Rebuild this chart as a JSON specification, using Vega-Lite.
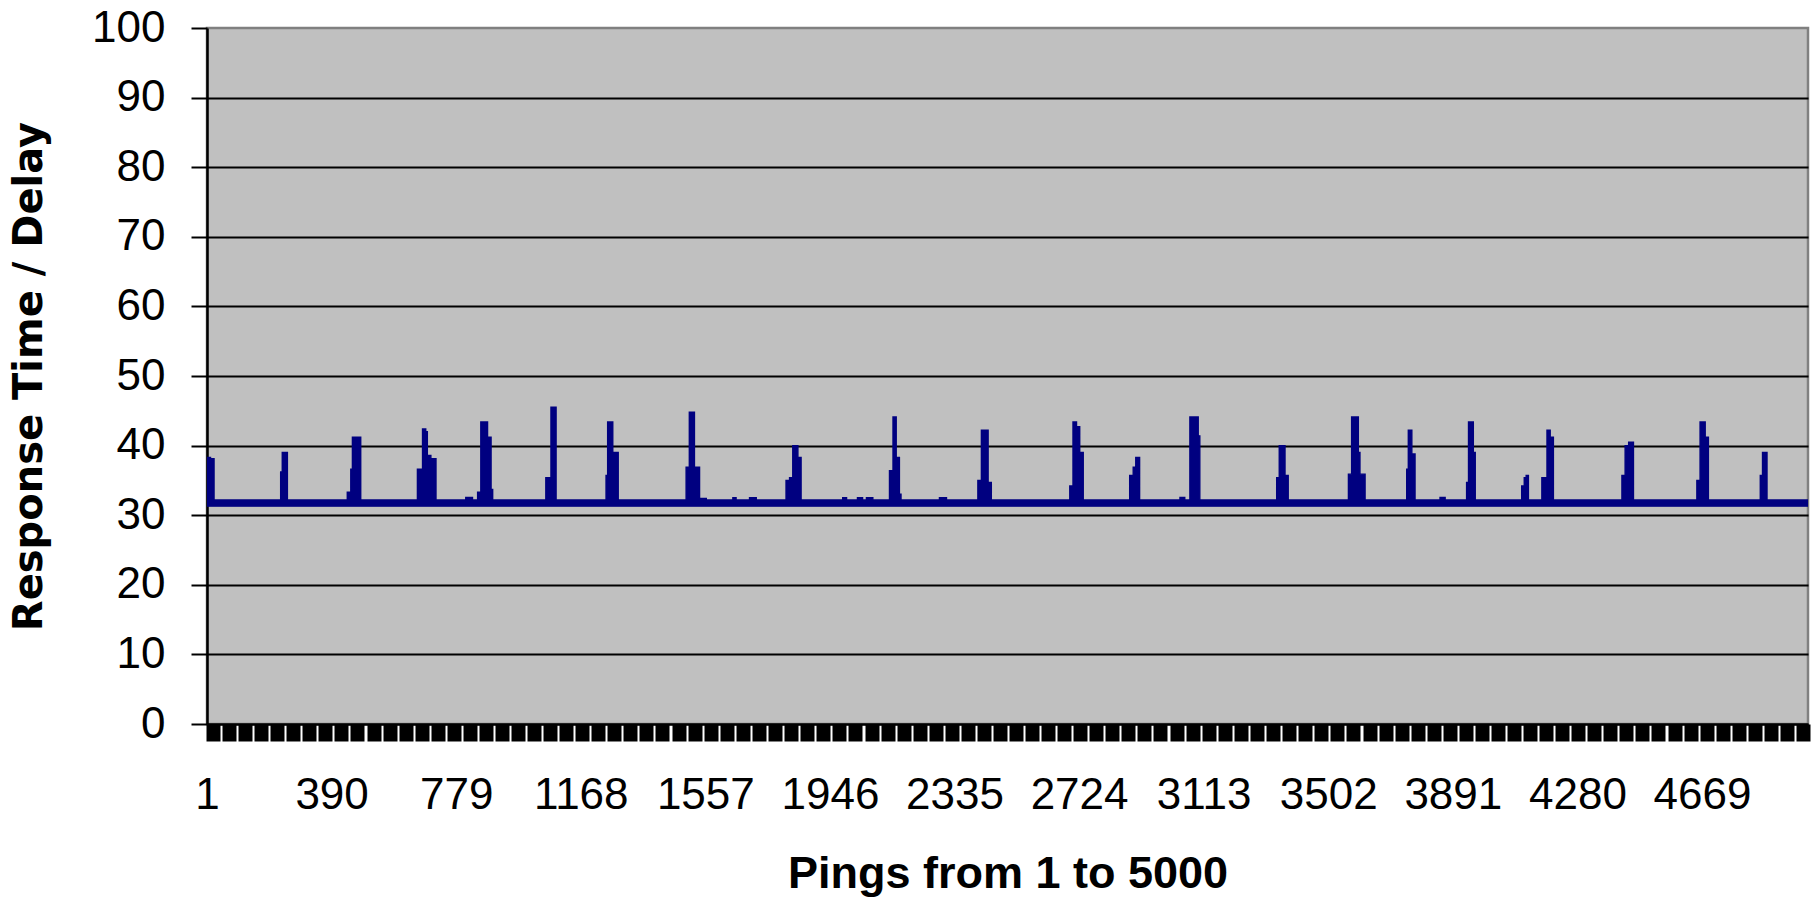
{
  "$schema": "https://vega.github.io/schema/vega-lite/v6.json",
  "width": 1601,
  "height": 696,
  "autosize": "none",
  "padding": {"left": 207, "top": 28, "right": 11, "bottom": 177},
  "background": "white",
  "config": {
    "view": {"fill": "#C0C0C0", "stroke": "#808080", "strokeWidth": 2.5}
  },
  "data": {
    "values": [
      {"ping": 1, "delay": 38.3}, {"ping": 12, "delay": 38.1}, {"ping": 23, "delay": 32.2},
      {"ping": 231, "delay": 36.2}, {"ping": 236, "delay": 39.0}, {"ping": 252, "delay": 32.2},
      {"ping": 439, "delay": 33.3}, {"ping": 450, "delay": 36.6}, {"ping": 455, "delay": 41.2}, {"ping": 481, "delay": 32.2},
      {"ping": 658, "delay": 36.6}, {"ping": 674, "delay": 42.4}, {"ping": 684, "delay": 42.0}, {"ping": 689, "delay": 38.6}, {"ping": 700, "delay": 38.1}, {"ping": 716, "delay": 32.2},
      {"ping": 809, "delay": 32.55}, {"ping": 830, "delay": 32.2},
      {"ping": 846, "delay": 33.3}, {"ping": 856, "delay": 43.4}, {"ping": 877, "delay": 41.2}, {"ping": 888, "delay": 33.7}, {"ping": 893, "delay": 32.2},
      {"ping": 1059, "delay": 35.4}, {"ping": 1075, "delay": 45.5}, {"ping": 1091, "delay": 32.2},
      {"ping": 1247, "delay": 35.7}, {"ping": 1252, "delay": 43.4}, {"ping": 1268, "delay": 39.0}, {"ping": 1285, "delay": 32.2},
      {"ping": 1497, "delay": 36.9}, {"ping": 1507, "delay": 44.8}, {"ping": 1523, "delay": 36.9}, {"ping": 1539, "delay": 32.4}, {"ping": 1560, "delay": 32.2},
      {"ping": 1643, "delay": 32.5}, {"ping": 1653, "delay": 32.2}, {"ping": 1695, "delay": 32.5}, {"ping": 1716, "delay": 32.2},
      {"ping": 1809, "delay": 35.0}, {"ping": 1820, "delay": 35.4}, {"ping": 1830, "delay": 40.0}, {"ping": 1846, "delay": 38.3}, {"ping": 1856, "delay": 32.2},
      {"ping": 1986, "delay": 32.5}, {"ping": 1998, "delay": 32.2}, {"ping": 2032, "delay": 32.5}, {"ping": 2048, "delay": 32.2}, {"ping": 2060, "delay": 32.5}, {"ping": 2080, "delay": 32.2},
      {"ping": 2132, "delay": 36.4}, {"ping": 2143, "delay": 44.1}, {"ping": 2153, "delay": 38.3}, {"ping": 2163, "delay": 33.0}, {"ping": 2168, "delay": 32.2},
      {"ping": 2288, "delay": 32.5}, {"ping": 2310, "delay": 32.2},
      {"ping": 2408, "delay": 35.0}, {"ping": 2419, "delay": 42.2}, {"ping": 2440, "delay": 34.7}, {"ping": 2450, "delay": 32.2},
      {"ping": 2695, "delay": 34.2}, {"ping": 2705, "delay": 43.4}, {"ping": 2716, "delay": 42.7}, {"ping": 2726, "delay": 39.0}, {"ping": 2737, "delay": 32.2},
      {"ping": 2882, "delay": 35.7}, {"ping": 2893, "delay": 36.9}, {"ping": 2901, "delay": 38.3}, {"ping": 2913, "delay": 32.2},
      {"ping": 3039, "delay": 32.55}, {"ping": 3054, "delay": 32.2},
      {"ping": 3070, "delay": 44.1}, {"ping": 3096, "delay": 41.4}, {"ping": 3101, "delay": 32.2},
      {"ping": 3341, "delay": 35.4}, {"ping": 3349, "delay": 40.0}, {"ping": 3367, "delay": 35.7}, {"ping": 3377, "delay": 32.2},
      {"ping": 3565, "delay": 35.9}, {"ping": 3575, "delay": 44.1}, {"ping": 3596, "delay": 39.0}, {"ping": 3601, "delay": 35.9}, {"ping": 3617, "delay": 32.2},
      {"ping": 3747, "delay": 36.6}, {"ping": 3752, "delay": 42.2}, {"ping": 3763, "delay": 38.8}, {"ping": 3773, "delay": 32.2},
      {"ping": 3851, "delay": 32.55}, {"ping": 3867, "delay": 32.2},
      {"ping": 3934, "delay": 34.7}, {"ping": 3940, "delay": 43.4}, {"ping": 3955, "delay": 39.0}, {"ping": 3961, "delay": 32.2},
      {"ping": 4106, "delay": 34.2}, {"ping": 4114, "delay": 35.4}, {"ping": 4120, "delay": 35.7}, {"ping": 4127, "delay": 32.2},
      {"ping": 4169, "delay": 35.4}, {"ping": 4185, "delay": 42.2}, {"ping": 4195, "delay": 41.2}, {"ping": 4205, "delay": 32.2},
      {"ping": 4419, "delay": 35.7}, {"ping": 4429, "delay": 40.0}, {"ping": 4440, "delay": 40.5}, {"ping": 4455, "delay": 32.2},
      {"ping": 4653, "delay": 35.0}, {"ping": 4663, "delay": 43.4}, {"ping": 4679, "delay": 41.2}, {"ping": 4689, "delay": 32.2},
      {"ping": 4851, "delay": 35.7}, {"ping": 4858, "delay": 39.0}, {"ping": 4872, "delay": 32.2},
      {"ping": 5000, "delay": 32.2}
    ]
  },
  "mark": {"type": "area", "interpolate": "step-after", "color": "#000080", "stroke": "#000080", "strokeWidth": 1.4, "strokeJoin": "miter", "clip": true},
  "encoding": {
    "x": {
      "field": "ping",
      "type": "quantitative",
      "scale": {"domain": [1, 5000], "nice": false, "zero": false},
      "axis": {
        "title": "Pings from 1 to 5000",
        "titleFont": "Liberation Sans",
        "titleFontSize": 45,
        "titleFontWeight": "bold",
        "titleColor": "black",
        "titlePadding": 34,
        "values": [1, 19, 69, 119, 169, 220, 270, 320, 370, 390, 420, 470, 521, 571, 621, 671, 721, 771, 779, 822, 872, 922, 972, 1022, 1072, 1123, 1168, 1173, 1223, 1273, 1323, 1373, 1423, 1474, 1524, 1557, 1574, 1624, 1674, 1724, 1775, 1825, 1875, 1925, 1946, 1975, 2025, 2076, 2126, 2176, 2226, 2276, 2326, 2335, 2377, 2427, 2477, 2527, 2577, 2627, 2678, 2724, 2728, 2778, 2828, 2878, 2928, 2978, 3029, 3079, 3113, 3129, 3179, 3229, 3279, 3330, 3380, 3430, 3480, 3502, 3530, 3580, 3631, 3681, 3731, 3781, 3831, 3881, 3891, 3932, 3982, 4032, 4082, 4132, 4182, 4232, 4280, 4283, 4333, 4383, 4433, 4483, 4533, 4584, 4634, 4669, 4684, 4734, 4784, 4834, 4885, 4935, 4985],
        "format": "d",
        "labelExpr": "indexof([1,390,779,1168,1557,1946,2335,2724,3113,3502,3891,4280,4669], datum.value) >= 0 ? datum.label : ''",
        "labelOverlap": false,
        "labelFlush": false,
        "labelBound": false,
        "labelFont": "Liberation Sans",
        "labelFontSize": 44,
        "labelColor": "black",
        "labelPadding": 32,
        "ticks": true,
        "tickColor": "black",
        "tickSize": 17,
        "tickWidth": 14,
        "tickOpacity": {"condition": {"test": "indexof([1,390,779,1168,1557,1946,2335,2724,3113,3502,3891,4280,4669], datum.value) >= 0", "value": 0}, "value": 1},
        "domain": true,
        "domainColor": "black",
        "domainWidth": 2,
        "grid": false
      }
    },
    "y": {
      "field": "delay",
      "type": "quantitative",
      "scale": {"domain": [0, 100], "nice": false, "zero": true},
      "axis": {
        "title": "Response Time / Delay",
        "titleFont": "DejaVu Sans",
        "titleFontSize": 40,
        "titleFontWeight": "bold",
        "titleColor": "black",
        "titlePadding": 42,
        "values": [0, 10, 20, 30, 40, 50, 60, 70, 80, 90, 100],
        "labelFont": "Liberation Sans",
        "labelFontSize": 44,
        "labelColor": "black",
        "labelPadding": 26,
        "tickColor": "black",
        "tickSize": 16,
        "tickWidth": 2,
        "domain": true,
        "domainColor": "black",
        "domainWidth": 2.5,
        "grid": true,
        "gridColor": "black",
        "gridWidth": 2,
        "gridOpacity": {"condition": {"test": "datum.value == 100", "value": 0}, "value": 1}
      }
    },
    "y2": {"datum": 31.3}
  }
}
